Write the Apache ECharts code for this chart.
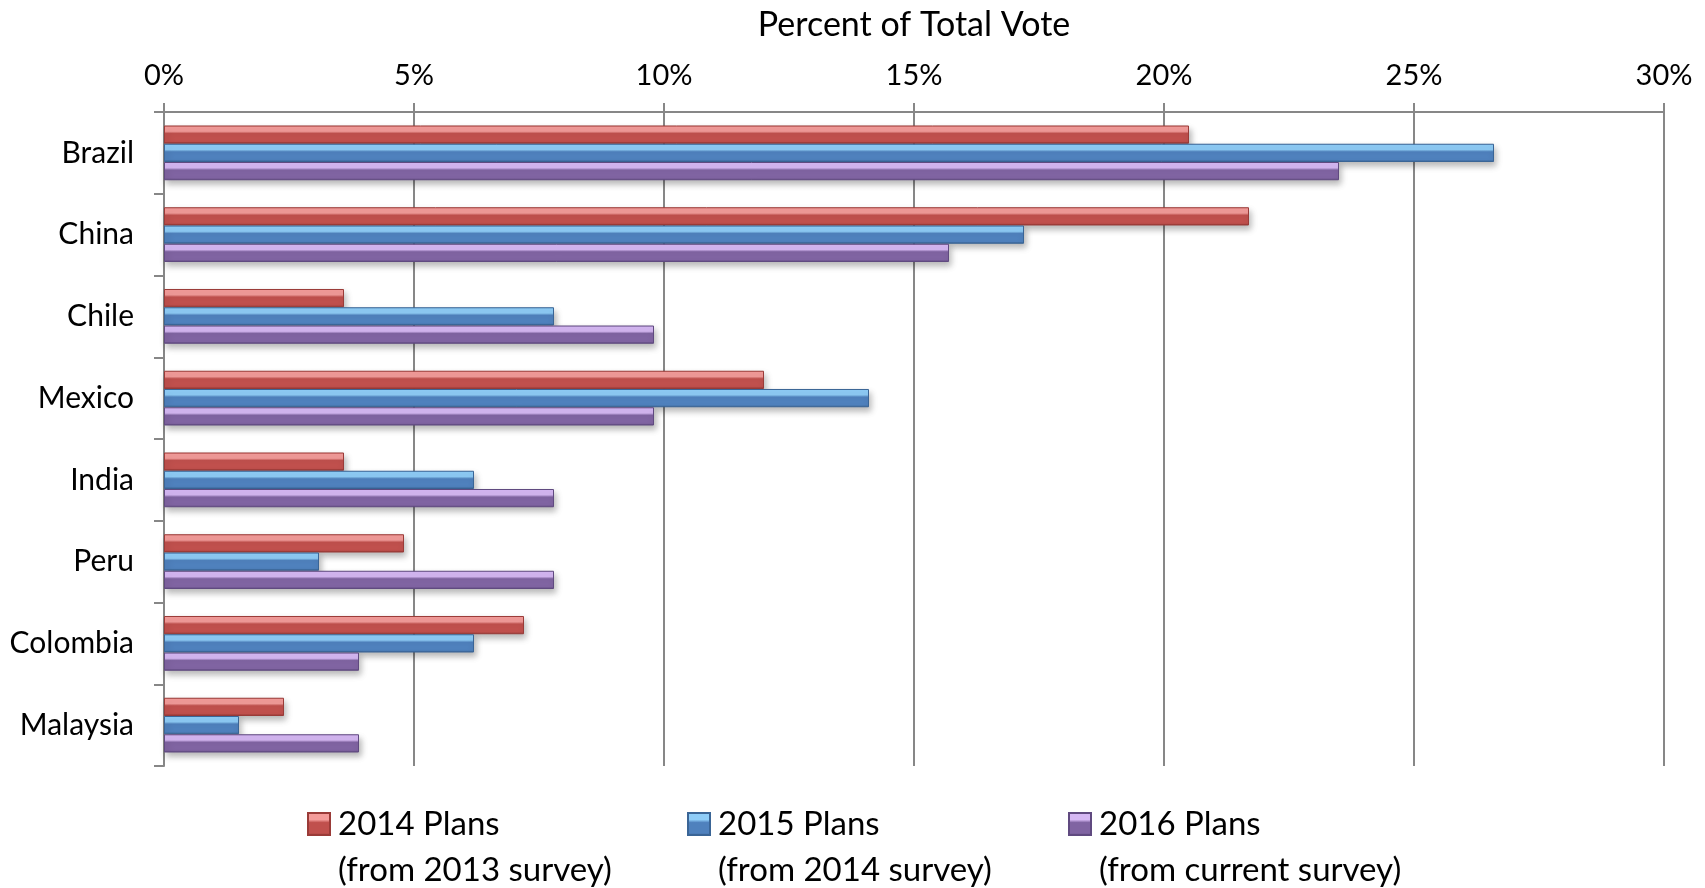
<!DOCTYPE html>
<html>
<head>
<meta charset="utf-8">
<title>Percent of Total Vote</title>
<script src="https://cdn.jsdelivr.net/npm/echarts@6/dist/echarts.min.js"></script>
<style>
  html, body { margin: 0; padding: 0; background: #ffffff; }
  #chart { width: 1705px; height: 888px; }
</style>
</head>
<body>
<div id="chart"></div>
<script>
// Countries, top to bottom
const categories = ['Brazil', 'China', 'Chile', 'Mexico', 'India', 'Peru', 'Colombia', 'Malaysia'];

// Share of total vote, in percent
const plans2014 = [20.5, 21.7, 3.6, 12.0, 3.6, 4.8, 7.2, 2.4];
const plans2015 = [26.6, 17.2, 7.8, 14.1, 6.2, 3.1, 6.2, 1.5];
const plans2016 = [23.5, 15.7, 9.8, 9.8, 7.8, 7.8, 3.9, 3.9];

const seriesNames = ['2014 Plans', '2015 Plans', '2016 Plans'];
const seriesNotes = ['(from 2013 survey)', '(from 2014 survey)', '(from current survey)'];

// Axis ticks
const axisMin = 0;
const axisMax = 30;
const axisStep = 5;

const FONT = 'Lato, "Open Sans", sans-serif';

// Bevelled bar fill: light top edge, main body, dark bottom edge
function bevel(light, mid, main, dark) {
  return new echarts.graphic.LinearGradient(0, 0, 0, 1, [
    { offset: 0, color: mid },
    { offset: 0.08, color: light },
    { offset: 0.32, color: light },
    { offset: 0.44, color: main },
    { offset: 0.88, color: main },
    { offset: 1, color: dark }
  ]);
}

const fills = [
  bevel('#f49c9a', '#e27370', '#c0504d', '#8c3431'),
  bevel('#8fcdf8', '#6aa8e0', '#4f81bd', '#355d8c'),
  bevel('#d6b8f4', '#b396d6', '#8064a2', '#5a4579')
];
const borders = ['#9a3b38', '#3a6596', '#604a80'];

const seriesData = [plans2014, plans2015, plans2016];

const series = seriesData.map((values, i) => ({
  name: seriesNames[i],
  type: 'bar',
  data: values,
  barGap: '0%',
  barCategoryGap: '33%',
  itemStyle: {
    color: fills[i],
    borderColor: borders[i],
    borderWidth: 1,
    shadowColor: 'rgba(0,0,0,0.28)',
    shadowBlur: 6,
    shadowOffsetX: 2,
    shadowOffsetY: 4
  },
  emphasis: { disabled: true }
}));

// Each legend entry: an empty first line keeps the icon level with the series name,
// and the survey note sits on the line below.
const legendLefts = [302, 682, 1063];
const legends = seriesNames.map((name, i) => ({
  data: [name],
  left: legendLefts[i],
  top: 750,
  orient: 'horizontal',
  itemWidth: 22,
  itemHeight: 22,
  itemGap: 0,
  selectedMode: false,
  icon: 'rect',
  formatter: n => '\n' + n + '\n' + seriesNotes[i],
  textStyle: {
    fontFamily: FONT,
    fontSize: 33,
    color: '#000',
    lineHeight: 46,
    padding: [0, 0, 0, 3]
  }
}));

const chart = echarts.init(document.getElementById('chart'), null, { renderer: 'canvas' });

chart.setOption({
  animation: false,
  backgroundColor: '#ffffff',
  grid: { left: 164, right: 41, top: 112, bottom: 122, containLabel: false },
  legend: legends,
  xAxis: {
    type: 'value',
    position: 'top',
    min: axisMin,
    max: axisMax,
    interval: axisStep,
    name: 'Percent of Total Vote',
    nameLocation: 'middle',
    nameGap: 70,
    nameTextStyle: { fontFamily: FONT, fontSize: 34, color: '#000' },
    axisLine: { show: true, lineStyle: { color: '#878787', width: 2 } },
    axisTick: { show: true, length: 9, lineStyle: { color: '#878787', width: 2 } },
    axisLabel: {
      formatter: '{value}%',
      fontFamily: FONT,
      fontSize: 29,
      color: '#000',
      margin: 22
    },
    splitLine: { show: true, lineStyle: { color: '#878787', width: 2 } }
  },
  yAxis: {
    type: 'category',
    inverse: true,
    data: categories,
    axisLine: { show: true, lineStyle: { color: '#878787', width: 2 } },
    axisTick: { show: true, length: 10, lineStyle: { color: '#878787', width: 2 } },
    axisLabel: {
      fontFamily: FONT,
      fontSize: 30,
      color: '#000',
      margin: 30
    },
    splitLine: { show: false }
  },
  series: series
});
</script>
</body>
</html>
